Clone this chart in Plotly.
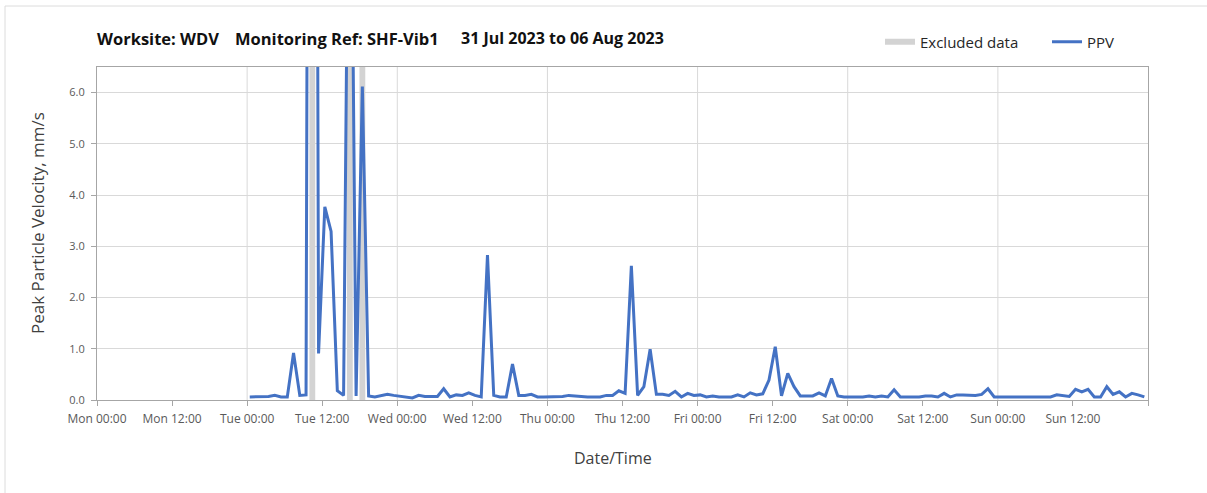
import pandas as pd
import plotly.graph_objects as go

# Hourly peak particle velocity readings (mm/s), starting Tue 01 Aug 2023 00:25
START = "2023-08-01 00:25"
PPV = [
    0.06, 0.06, 0.06, 0.07, 0.09, 0.06, 0.06, 0.92, 0.09, 0.10,
    45.0, 0.91, 3.77, 3.29, 0.18, 0.09, 14.0, 0.08, 6.12, 0.08,
    0.06, 0.08, 0.11, 0.09, 0.07, 0.06, 0.04, 0.09, 0.07, 0.07,
    0.07, 0.22, 0.06, 0.10, 0.09, 0.14, 0.09, 0.06, 2.83, 0.09,
    0.06, 0.06, 0.70, 0.09, 0.09, 0.11, 0.06, 0.06, 0.06, 0.06,
    0.07, 0.09, 0.08, 0.06, 0.06, 0.06, 0.06, 0.09, 0.09, 0.18,
    0.13, 2.62, 0.09, 0.26, 0.99, 0.11, 0.11, 0.09, 0.17, 0.06,
    0.13, 0.09, 0.10, 0.06, 0.08, 0.06, 0.06, 0.06, 0.10, 0.06,
    0.14, 0.10, 0.12, 0.39, 1.04, 0.08, 0.52, 0.26, 0.08, 0.08,
    0.08, 0.14, 0.08, 0.42, 0.08, 0.06, 0.06, 0.06, 0.06, 0.08,
    0.06, 0.08, 0.06, 0.20, 0.06, 0.06, 0.06, 0.06, 0.08, 0.08,
    0.06, 0.13, 0.06, 0.10, 0.10, 0.09, 0.09, 0.11, 0.22, 0.06,
    0.06, 0.06, 0.06, 0.06, 0.06, 0.06, 0.06, 0.06, 0.06, 0.10,
    0.08, 0.07, 0.21, 0.16, 0.21, 0.06, 0.06, 0.26, 0.11, 0.16,
    0.06, 0.13, 0.10, 0.06,
]
# Readings flagged as excluded
EXCLUDED = ["2023-08-01 10:25", "2023-08-01 16:25", "2023-08-01 18:25"]
EXCLUDED_HALF_WIDTH = pd.Timedelta(minutes=28)

X_START = "2023-07-31 00:00"
X_END = "2023-08-07 00:00"
Y_MAX = 6.5

times = pd.date_range(START, periods=len(PPV), freq="h")

# Gray excluded-data bands spanning the full plot height
band_x, band_y = [], []
for t in pd.to_datetime(EXCLUDED):
    a, b = t - EXCLUDED_HALF_WIDTH, t + EXCLUDED_HALF_WIDTH
    band_x += [a, b, b, a, a, None]
    band_y += [0, 0, Y_MAX, Y_MAX, 0, None]

# Geometry of the plot area in pixels
W, H = 1207, 493
L, R, T, B = 97, 1148, 67, 400
PW, PH = R - L, B - T


def px(x):
    return (x - L) / PW


def py(y):
    return (B - y) / PH


FONT = "Open Sans"

fig = go.Figure()
fig.add_trace(go.Scatter(
    x=band_x, y=band_y, mode="none", fill="toself",
    fillcolor="#d3d3d3", name="Excluded data", hoverinfo="skip",
    legend="legend",
))
fig.add_trace(go.Scatter(
    x=times, y=PPV, mode="lines", name="PPV",
    line=dict(color="#4472C4", width=3),
    legend="legend2",
))

# Ticks every 12 h; the closing tick at the range end carries no label
tick_vals = pd.date_range(X_START, X_END, freq="12h")
tick_text = [t.strftime("%a %H:%M") for t in tick_vals[:-1]] + [""]

# Daily vertical gridlines
day_lines = pd.date_range(X_START, X_END, freq="24h")[1:-1]
shapes = [
    dict(type="line", xref="x", yref="paper", x0=d, x1=d, y0=0, y1=1,
         line=dict(color="#d9d9d9", width=1), layer="below")
    for d in day_lines
]
# Light frame lines around the chart
shapes += [
    dict(type="line", xref="paper", yref="paper",
         x0=px(5), x1=px(5), y0=py(6), y1=py(W), line=dict(color="#dcdcdc", width=1)),
    dict(type="line", xref="paper", yref="paper",
         x0=px(5), x1=px(W + 5), y0=py(6), y1=py(6), line=dict(color="#dcdcdc", width=1)),
]

title_parts = [
    (95, "Worksite: WDV", 16.5),
    (233, "Monitoring Ref: SHF-Vib1", 16.5),
    (459, "31 Jul 2023 to 06 Aug 2023", 16),
]
annotations = [
    dict(text=f"<b>{txt}</b>", xref="paper", yref="paper", x=px(x0), y=py(38),
         xanchor="left", yanchor="middle", showarrow=False,
         font=dict(family=FONT, size=size, color="#111111"))
    for x0, txt, size in title_parts
]
annotations += [
    dict(text="Peak Particle Velocity, mm/s", xref="paper", yref="paper",
         x=px(37), y=py(223), xanchor="center", yanchor="middle",
         textangle=-90, showarrow=False,
         font=dict(family=FONT, size=17, color="#404040")),
    dict(text="Date/Time", xref="paper", yref="paper",
         x=px(613), y=py(458), xanchor="center", yanchor="middle",
         showarrow=False, font=dict(family=FONT, size=16, color="#404040")),
]

legend_common = dict(
    orientation="h", yanchor="middle", y=py(42), xanchor="left",
    font=dict(family=FONT, size=15, color="#262626"),
    bgcolor="rgba(0,0,0,0)", borderwidth=0,
)

fig.update_layout(
    width=W, height=H, autosize=False,
    margin=dict(l=L, r=W - R, t=T, b=H - B, pad=0),
    paper_bgcolor="white", plot_bgcolor="white",
    font=dict(family=FONT, color="#595959"),
    showlegend=True,
    legend=dict(x=px(880), **legend_common),
    legend2=dict(x=px(1047), **legend_common),
    shapes=shapes,
    annotations=annotations,
    xaxis=dict(
        range=[X_START, X_END], type="date",
        tickmode="array", tickvals=tick_vals, ticktext=tick_text,
        ticks="outside", ticklen=5, tickcolor="#a6a6a6",
        ticklabelstandoff=3,
        tickfont=dict(family=FONT, size=12, color="#595959"),
        showgrid=False, showline=True, linecolor="#a6a6a6", linewidth=1,
        mirror=True, zeroline=False,
    ),
    yaxis=dict(
        range=[0, Y_MAX], dtick=1, tick0=0, tickformat=".1f",
        ticks="outside", ticklen=5, tickcolor="#a6a6a6",
        ticklabelstandoff=4,
        tickfont=dict(family=FONT, size=11, color="#595959"),
        showgrid=True, gridcolor="#d9d9d9", gridwidth=1,
        showline=True, linecolor="#a6a6a6", linewidth=1,
        mirror=True, zeroline=False,
    ),
)

fig.write_html("out.html")
